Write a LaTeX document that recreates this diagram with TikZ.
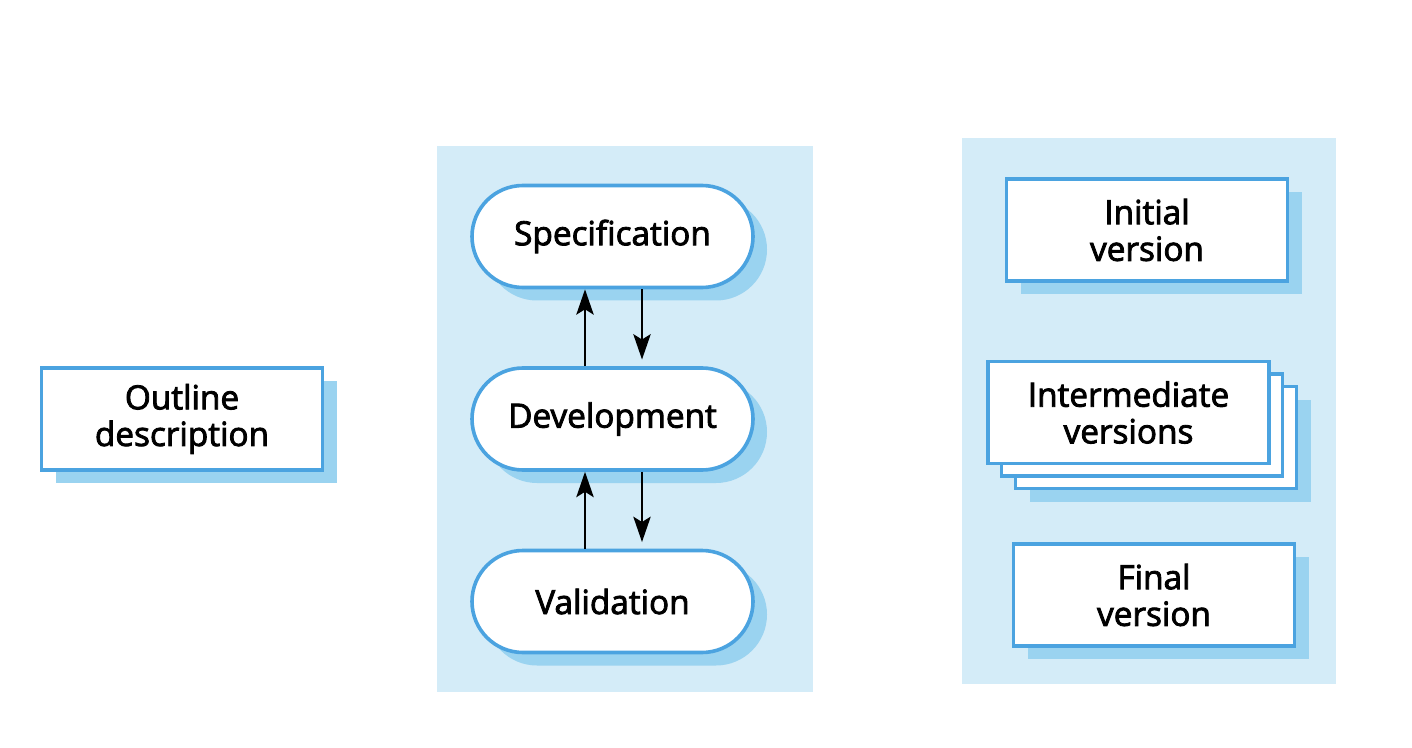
\documentclass[tikz,border=0pt]{standalone}
\usepackage{fontspec}
\setmainfont{Open Sans}
\newfontfamily\lblfont{Open Sans}[FakeBold=2.5]
\usetikzlibrary{shapes.misc,shadows,arrows.meta}
\definecolor{bord}{HTML}{4BA3E0}
\definecolor{shad}{HTML}{9AD3F0}
\definecolor{panel}{HTML}{D4ECF8}
\tikzset{
  boxshape/.style={draw=bord, line width=2.7pt, fill=white, inner sep=0pt, align=center,
    minimum width=210.75pt, minimum height=76.5pt, font=\lblfont\fontsize{25}{27.5}\selectfont},
  shd/.style={drop shadow={shadow xshift=10.5pt, shadow yshift=-9.75pt, fill=shad, opacity=1}},
  vbox/.style={boxshape, rectangle, shd},
  plainbox/.style={boxshape, rectangle},
  stad/.style={boxshape, rounded rectangle, minimum height=76.5pt, shd},
  arr/.style={line width=1.7pt, -{Stealth[length=19pt,width=13pt,inset=4pt]}}
}
\begin{document}
\begin{tikzpicture}[x=0.75pt,y=-0.75pt]
\useasboundingbox (0,0) rectangle (1412,748);
\fill[white] (0,0) rectangle (1412,748);
% panels
\fill[panel] (437,146) rectangle (813,692);
\fill[panel] (962,138) rectangle (1336,684);
% left
\node[vbox] (outline) at (182,419) {Outline\\description};
% middle
\node[stad] (spec) at (612.5,236.5) {Specification};
\node[stad] (dev) at (612.5,419) {Development};
\node[stad] (val) at (612.5,601.5) {Validation};
% right
\node[vbox] (init) at (1147,230) {Initial\\version};
\node[vbox] (interc) at (1156,437.5) {};
\node[plainbox] (interb) at (1142,425) {};
\node[plainbox] (intera) at (1128.5,412.5) {Intermediate\\versions};
\node[vbox] (final) at (1154,595) {Final\\version};
% arrows
\coordinate (upx) at (585,0);
\coordinate (dnx) at (642,0);
\draw[arr] (dev.north -| upx) -- (spec.south -| upx);
\draw[arr, shorten >=5pt] (spec.south -| dnx) -- (dev.north -| dnx);
\draw[arr] (val.north -| upx) -- (dev.south -| upx);
\draw[arr, shorten >=5pt] (dev.south -| dnx) -- (val.north -| dnx);
\end{tikzpicture}
\end{document}
